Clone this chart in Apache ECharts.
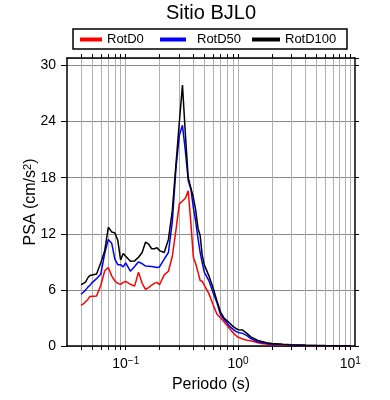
<!DOCTYPE html>
<html>
<head>
<meta charset="utf-8">
<script src="https://cdn.jsdelivr.net/npm/echarts@6/dist/echarts.min.js"></script>
<style>
html, body { margin: 0; background: #fff; }
#chart { width: 390px; height: 400px; }
</style>
</head>
<body>
<div id="chart"></div>
<script>
// periodos (s)
const periods = [0.04, 0.042, 0.044, 0.046, 0.048, 0.05, 0.055, 0.06, 0.065, 0.07,
	0.075, 0.08, 0.085, 0.09, 0.095, 0.1, 0.11, 0.12, 0.13, 0.14,
	0.15, 0.16, 0.17, 0.18, 0.19, 0.2, 0.22, 0.24, 0.26, 0.28,
	0.3, 0.32, 0.34, 0.36, 0.38, 0.4, 0.42, 0.44, 0.46, 0.48,
	0.5, 0.55, 0.6, 0.65, 0.7, 0.75, 0.8, 0.85, 0.9, 0.95,
	1.0, 1.1, 1.2, 1.3, 1.4, 1.5, 1.6, 1.8, 2.0, 2.5,
	3.0, 4.0, 5.0, 6.0, 7.5, 10.0];
const rotD0 = [4.37, 4.5, 4.75, 4.98, 5.3, 5.44, 5.35, 6.5, 8.05, 8.4,
	7.5, 6.95, 6.7, 6.6, 6.8, 6.9, 6.6, 6.4, 7.9, 6.7,
	6.05, 6.25, 6.5, 6.7, 6.8, 6.55, 7.6, 8.0, 9.6, 12.4,
	15.2, 15.5, 15.8, 16.6, 13.2, 9.5, 8.8, 7.9, 7.0, 6.9,
	6.7, 5.6, 4.4, 3.4, 3.0, 2.6, 2.2, 1.8, 1.45, 1.15,
	0.95, 0.75, 0.62, 0.55, 0.45, 0.35, 0.28, 0.2, 0.15, 0.1,
	0.08, 0.05, 0.04, 0.035, 0.03, 0.025];
const rotD50 = [5.54, 5.75, 6.0, 6.3, 6.5, 6.75, 7.2, 7.7, 9.9, 11.4,
	11.0, 9.3, 8.7, 8.7, 8.45, 8.9, 8.0, 8.5, 9.0, 8.8,
	8.55, 8.53, 8.5, 8.45, 8.4, 8.45, 9.3, 10.0, 13.3, 19.0,
	22.5, 23.6, 20.8, 17.7, 16.8, 14.8, 13.3, 11.5, 10.0, 8.9,
	7.9, 7.0, 5.7, 4.6, 3.3, 2.85, 2.45, 2.05, 1.8, 1.6,
	1.45, 1.35, 1.1, 0.8, 0.6, 0.45, 0.38, 0.28, 0.22, 0.15,
	0.11, 0.07, 0.05, 0.04, 0.035, 0.03];
const rotD100 = [6.55, 6.7, 6.85, 7.3, 7.55, 7.6, 7.7, 8.9, 10.2, 12.7,
	12.2, 12.1, 11.3, 9.2, 9.9, 9.6, 9.06, 9.1, 9.5, 10.0,
	11.1, 10.9, 10.4, 10.4, 10.5, 10.2, 10.0, 11.4, 14.5, 19.4,
	23.9, 27.9, 22.6, 18.0, 16.9, 15.9, 14.5, 12.6, 11.8, 9.7,
	8.7, 7.5, 6.2, 4.8, 3.6, 3.0, 2.7, 2.4, 2.1, 1.9,
	1.75, 1.7, 1.35, 0.98, 0.78, 0.6, 0.5, 0.35, 0.26, 0.18,
	0.13, 0.08, 0.06, 0.05, 0.04, 0.03];
// lineas de la rejilla en x (2..9 de cada decada)
const xTickValues = [0.04, 0.05, 0.06, 0.07, 0.08, 0.09, 0.1,
	0.2, 0.3, 0.4, 0.5, 0.6, 0.7, 0.8, 0.9, 1,
	2, 3, 4, 5, 6, 7, 8, 9, 10];
const xLabelValues = [0.1, 1, 10];
const xLabelText = { 0.1: "10{s|\u22121}", 1: "10{s|0}", 10: "10{s|1}" };

const font = "Liberation Sans, Arial, Helvetica, sans-serif";
const chart = echarts.init(document.getElementById("chart"));

const pairs = (vals) => periods.map((p, i) => [p, vals[i]]);

const option = {
	animation: false,
	title: {
		text: "Sitio BJL0",
		left: 166,
		top: 3,
		padding: 0,
		textStyle: { fontFamily: font, fontSize: 20, fontWeight: "normal", color: "#000" }
	},
	graphic: [
		{
			type: "rect",
			shape: { x: 73, y: 29, width: 274, height: 20 },
			style: { fill: "none", stroke: "#000", lineWidth: 1.5 }
		}
	],
	legend: [
		{ data: ["RotD0"], left: 80, top: 33, padding: 0, itemWidth: 22, itemHeight: 4, icon: "rect",
			textStyle: { fontFamily: font, fontSize: 13, color: "#000" } },
		{ data: ["RotD50"], left: 160, top: 33, padding: 0, itemWidth: 26, itemHeight: 4, icon: "rect",
			textStyle: { fontFamily: font, fontSize: 13, color: "#000", padding: [0, 0, 0, 6] } },
		{ data: ["RotD100"], left: 252, top: 33, padding: 0, itemWidth: 28, itemHeight: 4, icon: "rect",
			textStyle: { fontFamily: font, fontSize: 13, color: "#000" } }
	],
	grid: { left: 67, right: 35, top: 58, bottom: 54 },
	xAxis: [
		{
			type: "log",
			min: 0.03,
			max: 11,
			name: "Periodo (s)",
			nameLocation: "middle",
			nameGap: 27,
			nameTextStyle: { fontFamily: font, fontSize: 16, color: "#000" },
			axisLine: { onZero: false, lineStyle: { color: "#000", width: 1.5 } },
			axisTick: { show: true, length: 4, customValues: xTickValues, lineStyle: { color: "#000" } },
			axisLabel: {
				customValues: xLabelValues,
				margin: 10,
				fontFamily: font,
				fontSize: 14,
				color: "#000",
				formatter: (v) => xLabelText[v] || "",
				rich: { s: { fontFamily: font, fontSize: 10, verticalAlign: "top", padding: [0, 0, 7, 0] } }
			},
			splitLine: { show: true, lineStyle: { color: "#b0b0b0", width: 1 } },
			minorSplitLine: { show: false }
		},
		{
			type: "log",
			position: "top",
			min: 0.03,
			max: 11,
			axisLine: { onZero: false, lineStyle: { color: "#000", width: 1.5 } },
			axisTick: { show: true, length: 4, customValues: xTickValues, lineStyle: { color: "#000" } },
			axisLabel: { show: false },
			splitLine: { show: false }
		}
	],
	yAxis: [
		{
			type: "value",
			min: 0,
			max: 30.8,
			interval: 6,
			name: "PSA (cm/s{s|2})",
			nameLocation: "middle",
			nameRotate: 90,
			nameGap: 28,
			nameMoveOverlap: false,
			nameTextStyle: {
				fontFamily: font, fontSize: 16, color: "#000",
				rich: { s: { fontFamily: font, fontSize: 11, verticalAlign: "top", padding: [0, 0, 6, 0] } }
			},
			axisLine: { show: true, lineStyle: { color: "#000", width: 1.5 } },
			axisTick: { show: true, length: 6, lineStyle: { color: "#000" } },
			axisLabel: { margin: 11, fontFamily: font, fontSize: 14, color: "#000" },
			splitLine: { show: true, lineStyle: { color: "#8c8c8c", width: 1 } }
		},
		{
			type: "value",
			position: "right",
			min: 0,
			max: 30.8,
			interval: 6,
			axisLine: { show: true, lineStyle: { color: "#000", width: 1.5 } },
			axisTick: { show: true, length: 4, lineStyle: { color: "#000" } },
			axisLabel: { show: false },
			splitLine: { show: false }
		}
	],
	series: [
		{ name: "RotD0", type: "line", data: pairs(rotD0), showSymbol: false, color: "#ff0000",
			lineStyle: { width: 1.5, color: "#ff0000" } },
		{ name: "RotD50", type: "line", data: pairs(rotD50), showSymbol: false, color: "#0000ff",
			lineStyle: { width: 1.5, color: "#0000ff" } },
		{ name: "RotD100", type: "line", data: pairs(rotD100), showSymbol: false, color: "#000000",
			lineStyle: { width: 1.5, color: "#000000" } }
	]
};
chart.setOption(option);
</script>
</body>
</html>
